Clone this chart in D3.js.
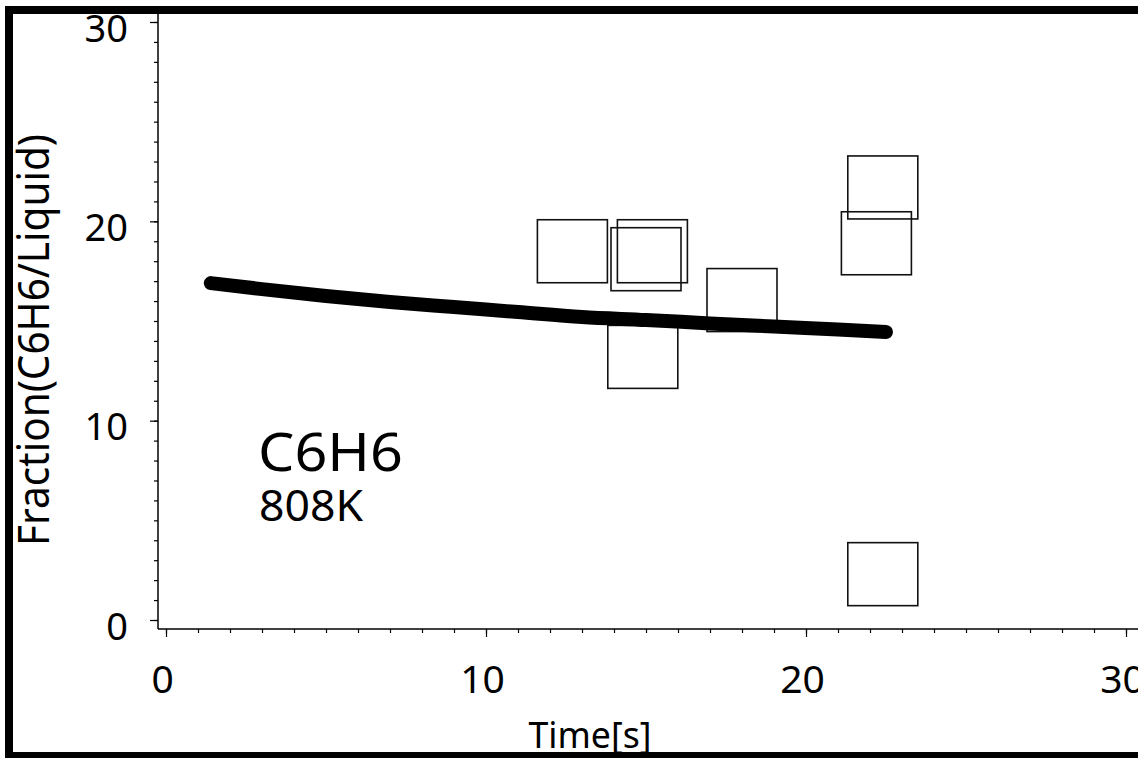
<!DOCTYPE html>
<html>
<head>
<meta charset="utf-8">
<script src="https://cdn.jsdelivr.net/npm/d3@7"></script>
<style>
  body { margin: 0; background: #fff; }
  svg { display: block; }
  text { font-family: "Noto Sans", sans-serif; fill: #000; }
</style>
</head>
<body>
<div id="chart"></div>
<script>
// model curve
var modelTime = [1.4, 3, 5, 7, 9, 11, 13, 15, 17, 19, 21, 22.5];
var modelFrac = [16.9, 16.6, 16.25, 15.95, 15.7, 15.45, 15.2, 15.05, 14.88, 14.72, 14.57, 14.45];

// measured points (open squares)
var pointTime = [12.7, 15.2, 15.0, 14.9, 18.0, 22.2, 22.4, 22.4];
var pointFrac = [18.5, 18.5, 18.1, 13.2, 16.05, 18.9, 21.7, 2.3];

var xMajor = [0, 10, 20, 30];
var yMajor = [0, 10, 20, 30];
var xMinor = d3.range(0, 31, 1);
var yMinor = d3.range(0, 31, 1);

var width = 1138, height = 758;

var svg = d3.select("#chart").append("svg")
    .attr("width", width)
    .attr("height", height);

var x = d3.scaleLinear().domain([0, 30]).range([166, 1126]);
var y = d3.scaleLinear().domain([0, 30]).range([620, 22]);

var axisY = 629, axisX = 158;

// frame (open on the right)
svg.append("path")
    .attr("d", "M" + (width + 10) + ",10 L9,10 L9," + (height + 10) + " M9,756 L" + (width + 10) + ",756")
    .attr("fill", "none")
    .attr("stroke", "#000")
    .attr("stroke-width", 8);

// x axis
var gx = svg.append("g").attr("transform", "translate(0," + axisY + ")");
gx.append("g")
    .call(d3.axisBottom(x).tickValues(xMinor).tickSize(4).tickFormat(""))
    .call(function(g) { g.select(".domain").remove(); });
gx.append("g")
    .call(d3.axisBottom(x).tickValues(xMajor).tickSize(8).tickPadding(28))
    .call(function(g) {
        g.select(".domain").remove();
        g.selectAll("text").attr("font-size", 39).attr("dx", "-0.1em")
            .style("font-family", '"Noto Sans", sans-serif');
    });
gx.append("line")
    .attr("x1", axisX).attr("x2", width)
    .attr("stroke", "#000").attr("stroke-width", 1.5);

// y axis
var gy = svg.append("g").attr("transform", "translate(" + axisX + ",0)");
gy.append("g")
    .call(d3.axisLeft(y).tickValues(yMinor).tickSize(4).tickFormat(""))
    .call(function(g) { g.select(".domain").remove(); });
gy.append("g")
    .call(d3.axisLeft(y).tickValues(yMajor).tickSize(8).tickPadding(22))
    .call(function(g) {
        g.select(".domain").remove();
        g.selectAll("text").attr("font-size", 38).attr("dy", "0.5em")
            .style("font-family", '"Noto Sans", sans-serif');
    });
gy.append("line")
    .attr("y1", 12).attr("y2", axisY)
    .attr("stroke", "#000").attr("stroke-width", 1.5);

svg.selectAll(".tick line").attr("stroke", "#000").attr("stroke-width", 1.2);

// axis titles
svg.append("text")
    .attr("x", 590).attr("y", 748)
    .attr("text-anchor", "middle")
    .attr("font-size", 37)
    .attr("textLength", 123)
    .attr("lengthAdjust", "spacingAndGlyphs")
    .text("Time[s]");

svg.append("text")
    .attr("transform", "translate(49,340) rotate(-90)")
    .attr("text-anchor", "middle")
    .attr("font-size", 44)
    .attr("textLength", 412)
    .attr("lengthAdjust", "spacingAndGlyphs")
    .text("Fraction(C6H6/Liquid)");

// annotation
svg.append("text")
    .attr("x", 258).attr("y", 471)
    .attr("font-size", 52)
    .attr("textLength", 145)
    .attr("lengthAdjust", "spacingAndGlyphs")
    .text("C6H6");
svg.append("text")
    .attr("x", 259).attr("y", 521)
    .attr("font-size", 43)
    .attr("textLength", 104)
    .attr("lengthAdjust", "spacingAndGlyphs")
    .text("808K");

// squares
var sqW = 70, sqH = 63;
svg.append("g").selectAll("rect")
    .data(pointTime)
    .enter().append("rect")
    .attr("x", function(d) { return x(d) - sqW / 2; })
    .attr("y", function(d, i) { return y(pointFrac[i]) - sqH / 2; })
    .attr("width", sqW)
    .attr("height", sqH)
    .attr("fill", "none")
    .attr("stroke", "#111")
    .attr("stroke-width", 1.6);

// model line
var line = d3.line()
    .x(function(d) { return x(d); })
    .y(function(d, i) { return y(modelFrac[i]); })
    .curve(d3.curveMonotoneX);

svg.append("path")
    .datum(modelTime)
    .attr("d", line)
    .attr("fill", "none")
    .attr("stroke", "#000")
    .attr("stroke-width", 14)
    .attr("stroke-linecap", "round");
</script>
</body>
</html>
